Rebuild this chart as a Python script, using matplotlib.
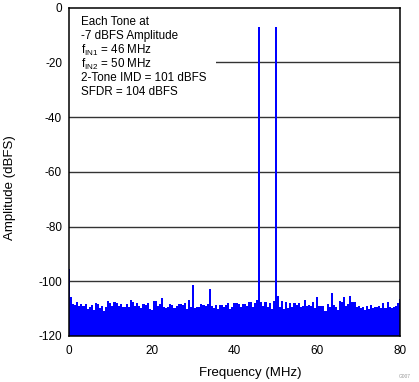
import numpy as np
import matplotlib
matplotlib.use("Agg")
import matplotlib.pyplot as plt
from matplotlib.patches import Rectangle

plt.rcParams['font.family'] = ['Liberation Sans', 'DejaVu Sans']
plt.rcParams['mathtext.fontset'] = 'custom'
plt.rcParams['mathtext.rm'] = 'Liberation Sans'
plt.rcParams['axes.unicode_minus'] = False

# FFT bins, 0 to 80 MHz, 0.5 MHz step
freq_start = 0.0
freq_stop = 80.0
amplitude_dbfs = [
    -95.5, -105.9, -108.3, -108.6, -107.5, -108.9, -108.3, -109.2, -108.3, -110.1,
    -109.5, -108.7, -110.4, -107.9, -108.3, -109.9, -109.2, -110.7, -109.5, -107.1,
    -107.9, -108.9, -107.4, -107.9, -108.9, -108.3, -109.5, -109.3, -108.3, -109.5,
    -106.9, -107.5, -108.9, -108.1, -108.9, -109.9, -108.3, -108.7, -107.9, -110.1,
    -110.4,  # 20 MHz
    -107.1, -107.1, -109.2, -108.3, -106.2, -109.3, -109.9, -109.5, -108.3, -108.7,
    -109.9, -108.9, -108.3, -108.3, -108.7, -107.9, -110.1, -106.9, -109.5,
    -101.4,  # 30 MHz
    -109.9, -109.5, -109.3, -108.3, -108.7, -109.2, -108.3, -102.8, -108.9, -109.9,
    -108.7, -110.1, -108.7, -108.7, -109.5, -108.7, -107.9, -110.1, -109.5, -107.9,
    -107.9, -108.3, -109.5, -108.3, -108.3, -108.9, -107.7, -107.5, -109.5, -107.9,
    -106.8,
    -7.0,    # 46 MHz
    -107.5, -108.9, -107.7, -109.5, -107.9, -110.1, -107.1,
    -7.0,    # 50 MHz
    -105.5, -109.5, -107.1, -110.1, -107.7, -109.9, -107.9, -109.5, -107.9, -108.7,
    -107.9, -109.5, -108.9, -106.9, -109.2, -108.7, -109.2, -107.5, -109.9, -105.9,
    -108.9, -109.2, -108.9, -110.7, -108.3, -109.5, -104.3, -108.7, -109.5, -110.4,
    -107.1, -107.7, -105.9, -108.9, -108.3, -105.5, -107.7, -107.5, -109.5, -108.9,
    -109.9, -109.3, -110.4, -109.2, -110.1, -108.7, -109.9, -109.5, -109.5, -108.9,
    -109.9, -107.9, -109.9, -107.7, -109.5, -109.9, -109.5, -109.2, -107.9, -106.6,
]
freqs = np.linspace(freq_start, freq_stop, len(amplitude_dbfs))

x_ticks = [0, 20, 40, 60, 80]
x_minor = [15, 30, 45, 60, 75]
y_ticks = [0, -20, -40, -60, -80, -100, -120]

annotation_lines = [
    "Each Tone at",
    "-7 dBFS Amplitude",
    r"f$_{\mathregular{IN1}}$ = 46 MHz",
    r"f$_{\mathregular{IN2}}$ = 50 MHz",
    "2-Tone IMD = 101 dBFS",
    "SFDR = 104 dBFS",
]

fig = plt.figure(figsize=(4.19, 3.82), dpi=100)
ax = fig.add_axes([69/419, 1-336/382, 331/419, 328.5/382])

ax.fill_between(freqs, amplitude_dbfs, -120, step='mid', color='#0000FF',
                linewidth=0, zorder=2)

ax.set_xlim(0, 80)
ax.set_ylim(-120, 0)
ax.set_xticks(x_ticks)
ax.set_yticks(y_ticks)
ax.set_xticks(x_minor, minor=True)
ax.tick_params(axis='both', which='major', length=0, labelsize=8.5)
ax.tick_params(axis='x', which='major', pad=6.5)
ax.tick_params(axis='y', which='major', pad=5)
ax.tick_params(axis='x', which='minor', direction='in', length=8.5, width=1.3,
               color='black')

for yv in y_ticks[1:-1]:
    ax.axhline(yv, color='#333333', linewidth=1.0, zorder=1)

# white box behind the annotation
ax.add_patch(Rectangle((0, 0.69), (216-69)/331, 0.32, transform=ax.transAxes,
                       facecolor='white', edgecolor='none', zorder=1.5))

for sp in ax.spines.values():
    sp.set_linewidth(1.1)
    sp.set_zorder(3)

for i, line in enumerate(annotation_lines):
    ypix = 22 + i * 14
    ax.text((81-69)/331, (336-ypix)/328.5, line, transform=ax.transAxes,
            fontsize=8.4, va='center', ha='left', zorder=4)

ax.set_xlabel("Frequency (MHz)", fontsize=9.5, va='center')
ax.xaxis.set_label_coords((250-69)/331, (336-373)/328.5)
ax.set_ylabel("Amplitude (dBFS)", fontsize=9.5, va='center')
ax.yaxis.set_label_coords((10-69)/331, (336-188)/328.5)

fig.text(405/419, 1-377/382, "G007", fontsize=3.5, color='#999999',
         ha='center', va='center')

fig.savefig("out.png", dpi=100)
